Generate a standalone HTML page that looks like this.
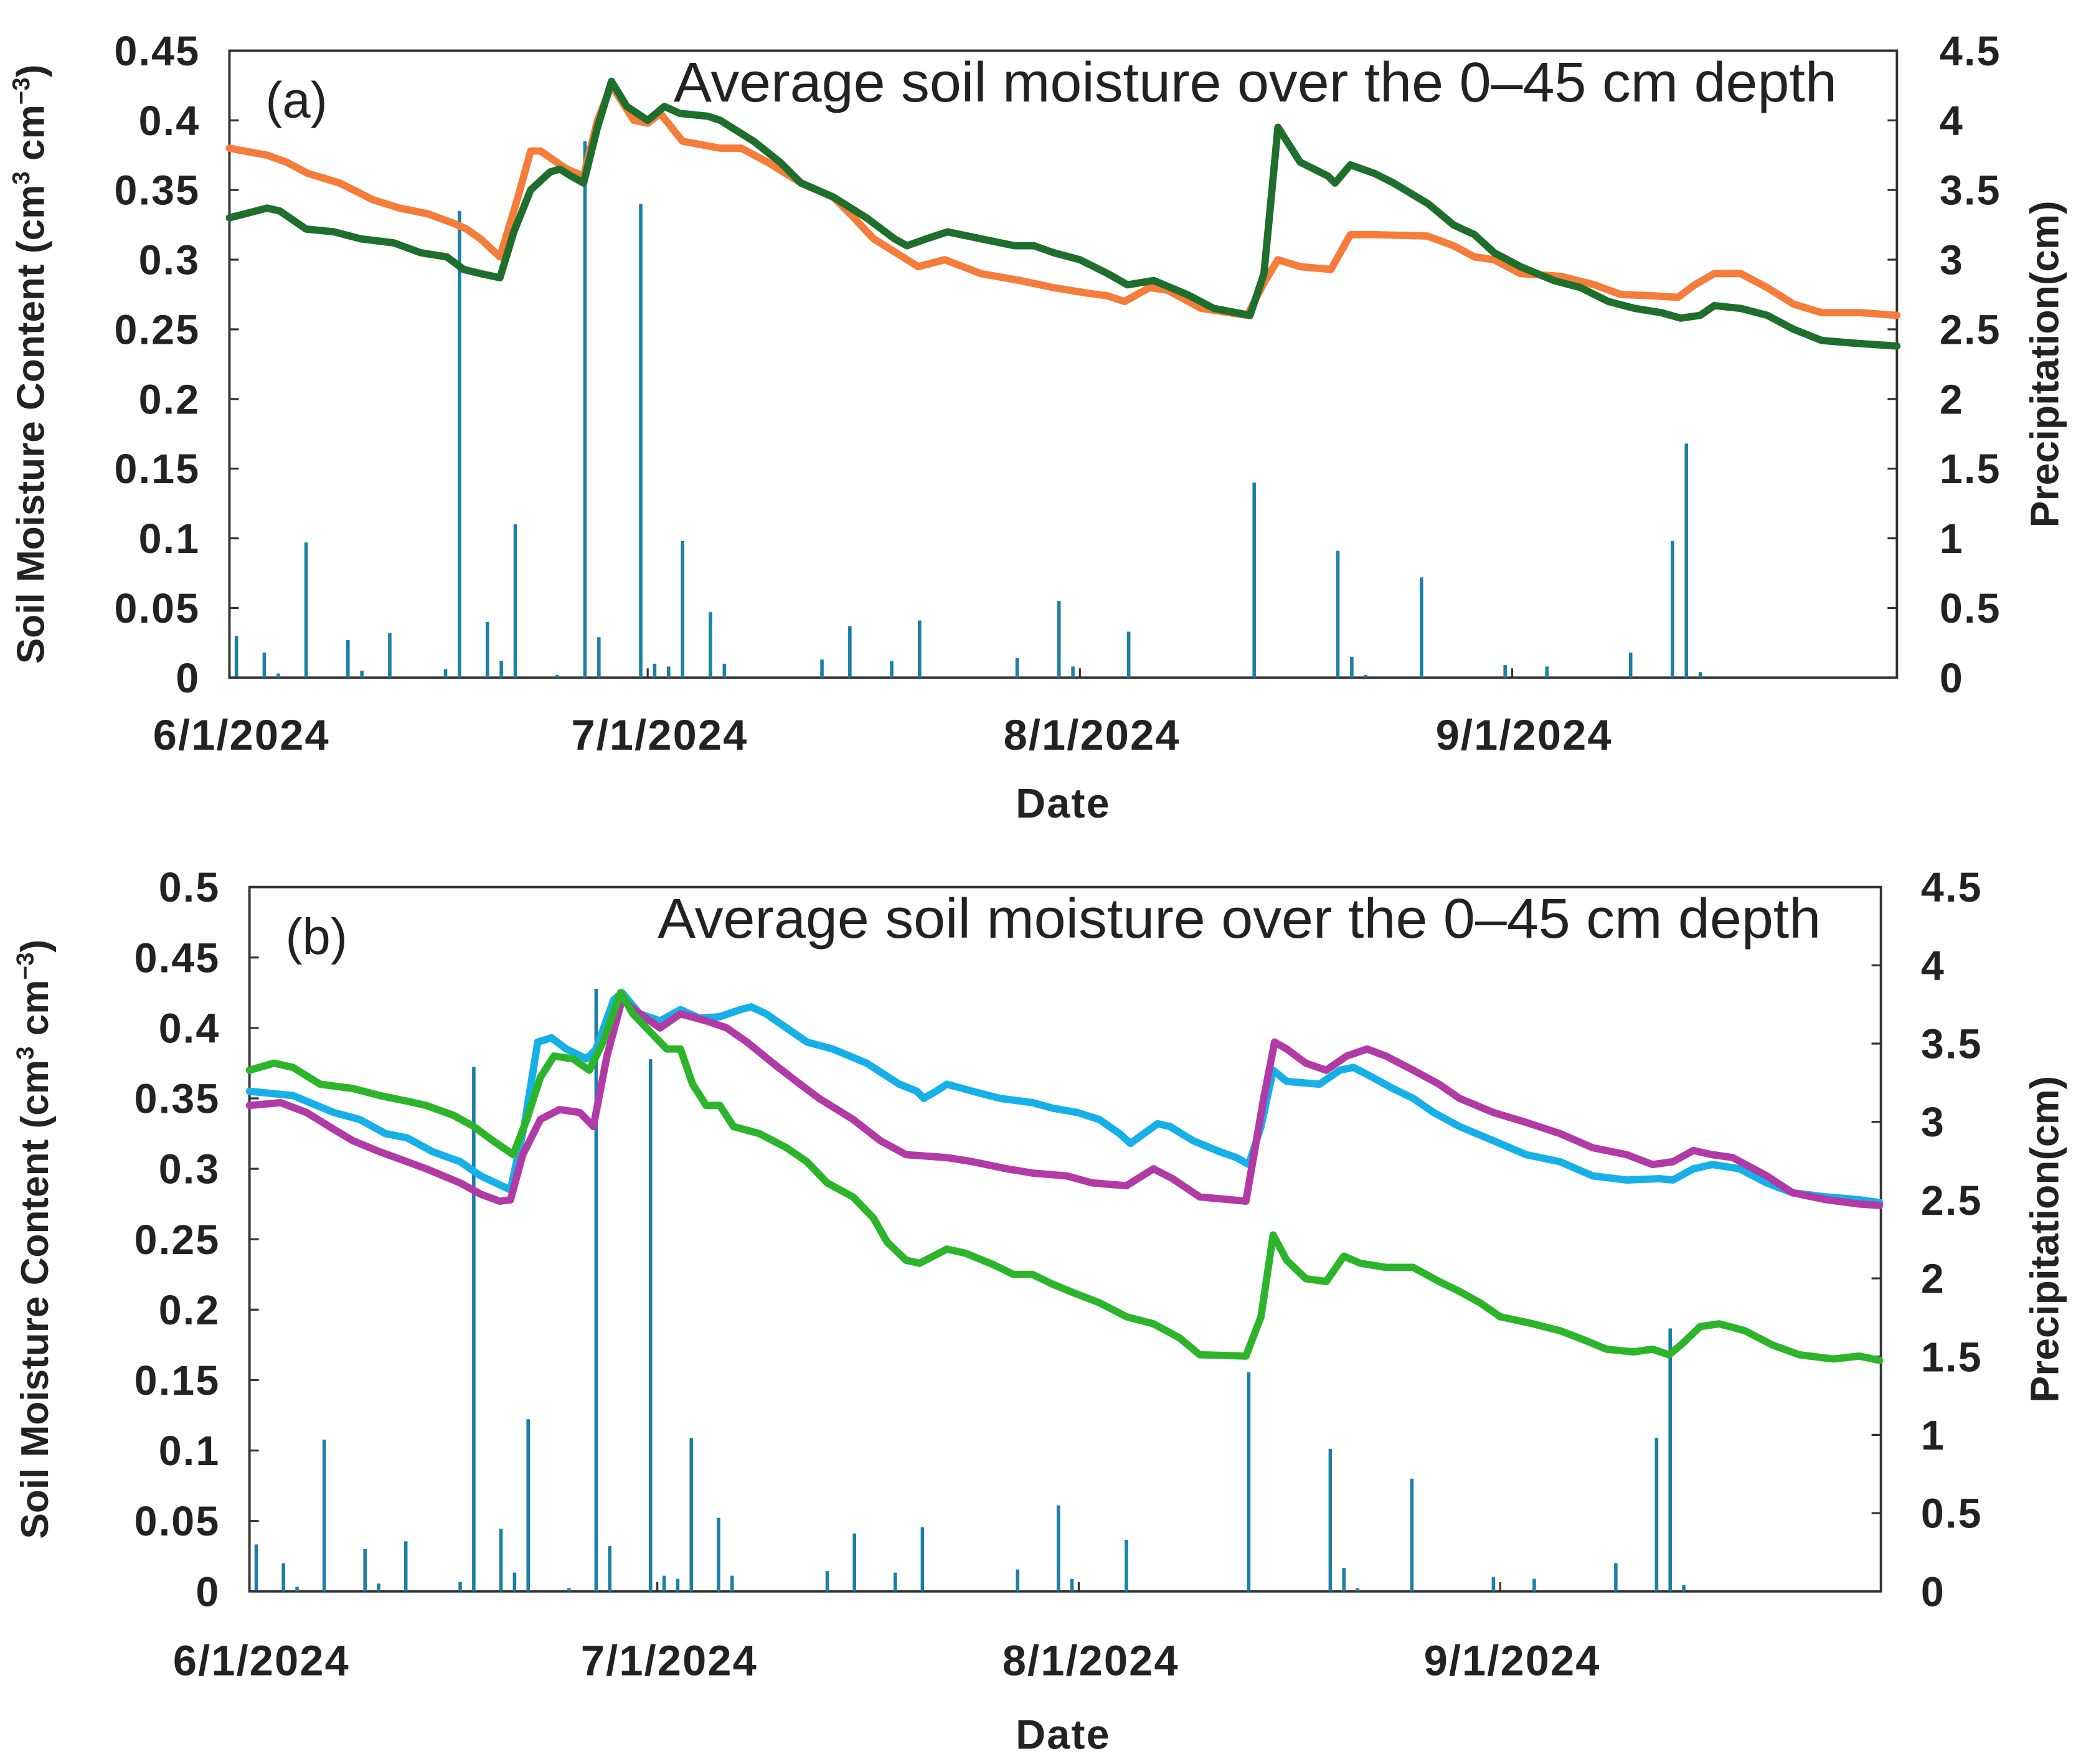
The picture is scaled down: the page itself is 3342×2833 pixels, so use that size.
<!DOCTYPE html>
<html><head><meta charset="utf-8"><style>
html,body{margin:0;padding:0;background:#fff;}
svg{display:block;font-family:"Liberation Sans",Arial,sans-serif;}
</style></head><body>
<svg id="chart" width="3342" height="2833" viewBox="0 0 1560 1322.4" xmlns="http://www.w3.org/2000/svg">
<rect x="0" y="0" width="1560" height="1322.4" fill="#fff"/>
</svg>
<script>
// ---- data ----
const precipDays = [0.5,2.5,3.5,5.5,8.5,9.5,11.5,15.5,16.5,18.5,19.5,20.5,23.5,25.5,26.5,29.5,30.5,31.5,32.5,34.5,35.5,42.5,44.5,47.5,49.5,56.5,59.5,60.5,64.5,73.5,79.5,80.5,81.5,85.5,91.5,94.5,100.5,103.5,104.5,105.5];
const precipCm = [0.3,0.18,0.03,0.97,0.27,0.05,0.32,0.06,3.35,0.4,0.12,1.1,0.02,3.85,0.29,3.4,0.1,0.08,0.98,0.47,0.1,0.13,0.37,0.12,0.41,0.14,0.55,0.08,0.33,1.4,0.91,0.15,0.02,0.72,0.09,0.08,0.18,0.98,1.68,0.04];

const orangeADays = [0,2.7,4.1,5.6,7.9,10.3,12.2,14.2,16.1,17,18,19.4,20.7,21.6,22.3,24.2,25.4,26.4,27.4,29,30,30.9,32.5,35.2,36.7,38.6,41,43.3,44.8,46.2,47.8,49.4,51.3,53.9,56.7,59.1,61.5,63,64.2,66,67.3,69.7,73,74.3,75.2,76.8,79,80.4,82.1,85.9,87.8,89.3,90.7,92.6,95.5,97.9,99.8,102.2,103.9,105.1,106.5,108.4,110.3,112.2,114.2,117,119.6];
const orangeAVals = [0.38,0.375,0.37,0.362,0.355,0.343,0.337,0.333,0.326,0.322,0.315,0.302,0.345,0.378,0.378,0.365,0.36,0.4,0.425,0.4,0.398,0.405,0.385,0.38,0.38,0.37,0.355,0.345,0.33,0.315,0.305,0.295,0.3,0.29,0.285,0.28,0.276,0.274,0.27,0.28,0.278,0.265,0.26,0.285,0.3,0.295,0.293,0.318,0.318,0.317,0.31,0.302,0.3,0.29,0.288,0.282,0.275,0.274,0.273,0.282,0.29,0.29,0.28,0.268,0.262,0.262,0.26];

const greenADays = [0,2.7,3.6,5.5,7.5,9.4,11.8,13.7,15.6,16.8,18,19.4,20.4,21.6,23,23.7,24.5,25.4,26.4,27.4,28.5,30,31.2,32.3,34.3,35.2,37.6,39.5,41,43.3,45.7,47.7,48.6,50,51.5,53.9,56.3,57.7,59.1,61,63,64.4,66.3,68.7,70.6,73.2,74.2,75.2,76.8,78.8,79.3,80.4,82.1,83.5,86,87.8,89.3,90.7,92.6,95,96.9,98.9,100.8,102.7,104.1,105.5,106.5,108.4,110.3,112.2,114.2,116.6,119.6];
const greenAVals = [0.33,0.337,0.335,0.322,0.32,0.315,0.312,0.305,0.302,0.293,0.29,0.287,0.32,0.35,0.363,0.365,0.36,0.355,0.395,0.428,0.41,0.4,0.41,0.405,0.403,0.4,0.385,0.37,0.355,0.345,0.33,0.315,0.31,0.315,0.32,0.315,0.31,0.31,0.305,0.3,0.29,0.282,0.285,0.275,0.265,0.26,0.29,0.395,0.37,0.36,0.355,0.368,0.362,0.355,0.34,0.325,0.318,0.305,0.295,0.285,0.28,0.27,0.265,0.262,0.258,0.26,0.267,0.265,0.26,0.25,0.242,0.24,0.238];

const cyanBDays = [0,3.2,6.2,8.1,10,11.6,13.5,15.5,17,19.2,20.2,21.2,22.2,23.3,24.8,25.5,26.8,27.4,28.7,30.2,31.7,33.1,34.6,36.1,36.9,38,39.5,41,42.9,45.4,47.8,49.1,49.6,50.5,51.3,53.2,55.2,57.6,59.1,60.9,62.5,64,64.8,65.8,66.8,67.7,69.4,71.4,72.6,73.5,74.4,75.3,76.3,78.7,80.2,81.2,82.6,84.1,85.6,87.1,89,91.5,93.9,96.4,98.8,101.3,103.7,104.7,106.2,107.6,109.6,111.6,113.5,116,118.4,119.9];
const cyanBVals = [0.355,0.352,0.34,0.335,0.325,0.322,0.312,0.305,0.295,0.285,0.33,0.39,0.393,0.385,0.378,0.385,0.42,0.425,0.41,0.405,0.413,0.407,0.408,0.413,0.415,0.41,0.4,0.39,0.385,0.375,0.36,0.355,0.35,0.355,0.36,0.355,0.35,0.347,0.343,0.34,0.335,0.325,0.318,0.325,0.332,0.33,0.32,0.312,0.308,0.303,0.33,0.37,0.362,0.36,0.37,0.372,0.365,0.357,0.35,0.34,0.33,0.32,0.31,0.305,0.295,0.292,0.293,0.292,0.3,0.303,0.3,0.29,0.283,0.28,0.278,0.276];

const magentaBDays = [0,2.3,4.2,6.2,7.6,9.6,11.6,13,15.5,17,18.4,19.2,20.1,21.4,22.8,24.3,25.3,26.3,27.4,28.7,30.2,31.7,33.6,35.1,36.6,38.5,40.5,41.9,44.4,46.4,48.3,51.3,53.2,55.7,57.6,60.1,62,64.5,66.5,67.9,69.9,73.3,74.6,75.4,76.3,77.7,79.2,80.7,82.2,83.6,85.6,87.5,89,91.5,93.9,96.4,98.8,101.3,103.2,104.7,106.2,107.6,109.1,111.6,113.5,116,118.4,119.9];
const magentaBVals = [0.345,0.347,0.34,0.328,0.32,0.312,0.305,0.3,0.29,0.282,0.277,0.278,0.31,0.335,0.342,0.34,0.33,0.38,0.42,0.41,0.4,0.41,0.405,0.4,0.39,0.375,0.36,0.35,0.335,0.32,0.31,0.308,0.305,0.3,0.297,0.295,0.29,0.288,0.3,0.293,0.28,0.277,0.35,0.39,0.385,0.375,0.37,0.38,0.385,0.38,0.37,0.36,0.35,0.34,0.333,0.325,0.315,0.31,0.303,0.305,0.313,0.31,0.308,0.295,0.283,0.278,0.275,0.274];

const greenBDays = [0,1.8,3.2,5.2,7.6,9.6,11.6,13,15,16.5,17.9,19.4,20.4,21.4,22.4,23.8,25,26,27.3,28.2,29.7,30.7,31.7,32.6,33.6,34.6,35.6,37.5,39.5,41,42.5,44.4,45.9,46.9,48.3,49.3,50.3,51.3,52.7,54.7,56.2,57.6,59.1,60.6,62.5,64.5,66.5,68.4,69.9,73.3,74.4,75.3,76.3,77.7,79.2,80.5,81.7,83.6,85.6,87.5,89,90.5,92,94.4,96.4,98.3,99.8,101.8,103.2,104.4,105.3,106.7,108.1,110,112,114,116.5,118.4,119.9];
const greenBVals = [0.37,0.375,0.372,0.36,0.357,0.352,0.348,0.345,0.338,0.33,0.32,0.31,0.335,0.365,0.38,0.378,0.37,0.39,0.425,0.41,0.395,0.385,0.385,0.36,0.345,0.345,0.33,0.325,0.315,0.305,0.29,0.28,0.265,0.248,0.235,0.233,0.238,0.243,0.24,0.232,0.225,0.225,0.218,0.212,0.205,0.195,0.19,0.18,0.168,0.167,0.195,0.253,0.235,0.222,0.22,0.238,0.233,0.23,0.23,0.22,0.213,0.205,0.195,0.19,0.185,0.178,0.172,0.17,0.172,0.168,0.175,0.188,0.19,0.185,0.175,0.168,0.165,0.167,0.164];

const dateTickDays = [0,30,61,92];
const dateTickLabels = ["6/1/2024","7/1/2024","8/1/2024","9/1/2024"];
const leftTicksA = [0,0.05,0.1,0.15,0.2,0.25,0.3,0.35,0.4,0.45];
const leftLabelsA = ["0","0.05","0.1","0.15","0.2","0.25","0.3","0.35","0.4","0.45"];
const leftTicksB = [0,0.05,0.1,0.15,0.2,0.25,0.3,0.35,0.4,0.45,0.5];
const leftLabelsB = ["0","0.05","0.1","0.15","0.2","0.25","0.3","0.35","0.4","0.45","0.5"];
const rightTicksA = [0,0.5,1,1.5,2,2.5,3,3.5,4,4.5];
const rightLabelsA = ["0","0.5","1","1.5","2","2.5","3","3.5","4","4.5"];
const rightTicksB = [0,0.5,1,1.5,2,2.5,3,3.5,4,4.5];
const rightLabelsB = ["0","0.5","1","1.5","2","2.5","3","3.5","4","4.5"];

const NS = "http://www.w3.org/2000/svg";
const svg = document.getElementById('chart');
function mk(tag, attrs, parent){
  const e = document.createElementNS(NS, tag);
  for (const k in attrs) e.setAttribute(k, attrs[k]);
  (parent||svg).appendChild(e);
  return e;
}

function panel(cfg){
  const g = mk('g', {});
  
  
  const xS = d => cfg.x0 + (d/cfg.dayMax)*(cfg.x1-cfg.x0);
  const yL = v => cfg.y1 - (v/cfg.lMax)*(cfg.y1-cfg.y0);
  const yR = v => cfg.y1 - (v/cfg.rMax)*(cfg.y1-cfg.y0);
  const fr = mk('rect', {x:cfg.x0, y:cfg.y0, width:cfg.x1-cfg.x0, height:cfg.y1-cfg.y0, fill:'none', stroke:'#333', 'stroke-width':1.8}, g);
  
  
  precipDays.forEach((d,i)=>{
    const x = xS(d);
    const b = mk('line', {x1:x, x2:x, y1:cfg.y1, y2:yR(precipCm[i]), stroke:'#1c7fa6', 'stroke-width':2.6}, g);
    
    
  });
  cfg.lTicks.forEach((v,i)=>{
    const y = yL(v);
    mk('line', {x1:cfg.x0, x2:cfg.x0+7, y1:y, y2:y, stroke:'#333', 'stroke-width':1.5}, g);
    const t = mk('text', {x:cfg.x0-22, y:y+11, 'text-anchor':'end', 'font-size':31, 'font-weight':'bold', fill:'#222', 'letter-spacing':1}, g);
    t.textContent = cfg.lLabels[i];
    
    
  });
  cfg.rTicks.forEach((v,i)=>{
    const y = yR(v);
    mk('line', {x1:cfg.x1-7, x2:cfg.x1, y1:y, y2:y, stroke:'#333', 'stroke-width':1.5}, g);
    const t = mk('text', {x:cfg.x1+cfg.rOff, y:y+11, 'text-anchor':'start', 'font-size':31, 'font-weight':'bold', fill:'#222', 'letter-spacing':1}, g);
    t.textContent = cfg.rLabels[i];
    
    
  });
  dateTickDays.forEach((d,i)=>{
    const x = xS(d);
    mk('line', {x1:x, x2:x, y1:cfg.y1, y2:cfg.y1-7, stroke:'#333', 'stroke-width':1.5}, g);
    const t = mk('text', {x:x+9, y:cfg.dateY, 'text-anchor':'middle', 'font-size':32, 'font-weight':'bold', fill:'#222', 'letter-spacing':1}, g);
    t.textContent = dateTickLabels[i];
    
    
  });
  cfg.series.forEach(s=>{
    const pts = s.days.map((d,i)=>xS(d).toFixed(1)+','+yL(s.vals[i]).toFixed(1)).join(' ');
    const p = mk('polyline', {points:pts, fill:'none', stroke:s.color, 'stroke-width':5.5, 'stroke-linejoin':'round', 'stroke-linecap':'round'}, g);
    
    
  });
  const tag = mk('text', {x:cfg.x0+27, y:cfg.y0+50, 'font-size':38, fill:'#222'}, g);
  tag.textContent = cfg.tag;
  
  
  const ann = mk('text', {x:cfg.annX, y:cfg.y0+38, 'font-size':42, fill:'#222', textLength:cfg.annW, lengthAdjust:'spacingAndGlyphs'}, g);
  ann.textContent = 'Average soil moisture over the 0\u201345 cm depth';
  
  
  const dt = mk('text', {x:797, y:cfg.titleY, 'text-anchor':'middle', 'font-size':31, 'font-weight':'bold', fill:'#222', 'letter-spacing':1}, g);
  dt.textContent = 'Date';
  
  
  const cy = (cfg.y0+cfg.y1)/2;
  const yt = mk('text', {x:0, y:0, transform:`translate(${cfg.ytX},${cy}) rotate(-90)`, 'text-anchor':'middle', 'font-size':29, 'font-weight':'bold', fill:'#222'}, g);
  yt.innerHTML = 'Soil Moisture Content (cm<tspan dy="-11" font-size="18">3</tspan><tspan dy="11"> cm</tspan><tspan dy="-11" font-size="18">\u22123</tspan><tspan dy="11">)</tspan>';
  
  
  const rt = mk('text', {x:0, y:0, transform:`translate(${cfg.rtX},${cy}) rotate(-90)`, 'text-anchor':'middle', 'font-size':30, 'font-weight':'bold', fill:'#222'}, g);
  rt.textContent = 'Precipitation(cm)';
  
  
}

panel({name:'panel-a', x0:172, x1:1422, y0:38, y1:508, dayMax:119.6, lMax:0.45, rMax:4.5,
  lTicks:leftTicksA, lLabels:leftLabelsA, rTicks:rightTicksA, rLabels:rightLabelsA, rOff:32,
  dateY:562, titleY:613, tag:'(a)', annX:505, annW:872, ytX:33, rtX:1543,
  series:[{name:'orange-series-a', days:orangeADays, vals:orangeAVals, color:'#f57c3a'},
          {name:'green-series-a', days:greenADays, vals:greenAVals, color:'#1e6e2c'}]});

panel({name:'panel-b', x0:187, x1:1410, y0:665, y1:1193, dayMax:120, lMax:0.5, rMax:4.5,
  lTicks:leftTicksB, lLabels:leftLabelsB, rTicks:rightTicksB, rLabels:rightLabelsB, rOff:30,
  dateY:1256, titleY:1311, tag:'(b)', annX:493, annW:872, ytX:36, rtX:1543,
  series:[{name:'cyan-series-b', days:cyanBDays, vals:cyanBVals, color:'#16b0e8'},
          {name:'magenta-series-b', days:magentaBDays, vals:magentaBVals, color:'#b23aa6'},
          {name:'green-series-b', days:greenBDays, vals:greenBVals, color:'#2cb52a'}]});
</script>
</body></html>
